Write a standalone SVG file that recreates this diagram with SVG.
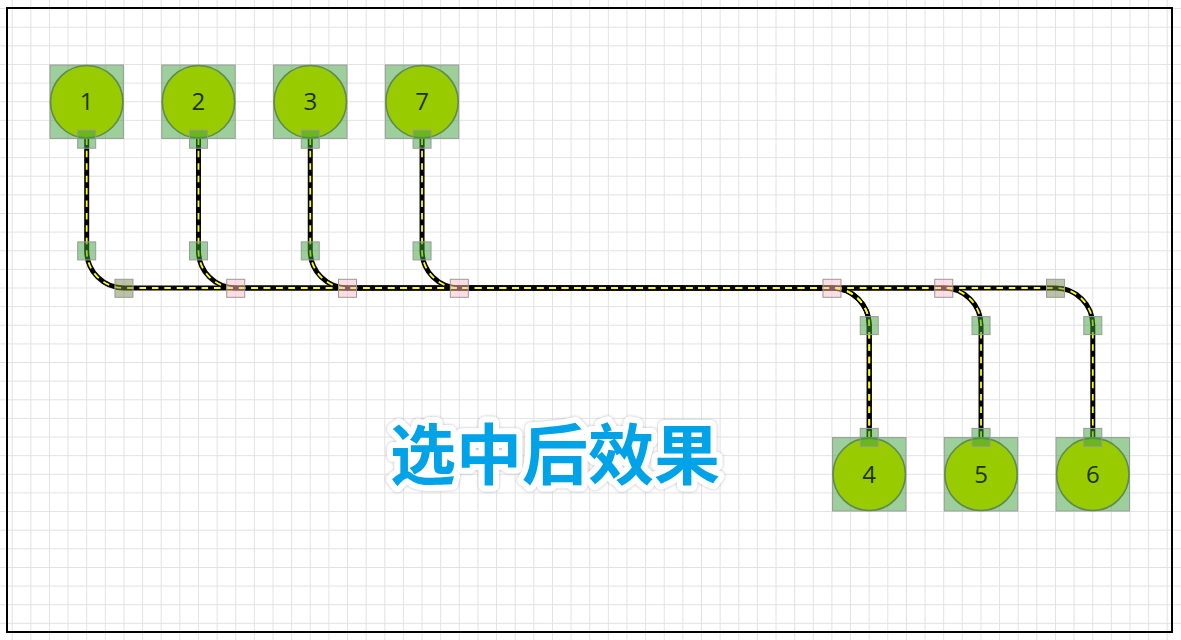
<svg xmlns="http://www.w3.org/2000/svg" xmlns:xlink="http://www.w3.org/1999/xlink" width="1181" height="640" viewBox="0 0 1181 640">
<style>
.box{fill:rgba(60,160,60,0.5);stroke:#9a9a9a;stroke-width:1}
.circ{fill:#99cc00;stroke:#5f8a50;stroke-width:1.6}
.lbl{font-family:"Open Sans","Liberation Sans",sans-serif;font-size:24px;fill:#1e3300;text-anchor:middle}
.port{fill:rgba(60,160,60,0.5);stroke:#9a9a9a;stroke-width:1}
.hg{fill:rgba(60,160,60,0.5);stroke:#9a9a9a;stroke-width:1}
.hp{fill:rgba(255,190,200,0.5);stroke:#9a9a9a;stroke-width:1}
.ho{fill:rgba(120,135,75,0.5);stroke:#9a9a9a;stroke-width:1}
.under{fill:none;stroke:#000;stroke-width:5}
.dash{fill:none;stroke:#ffff00;stroke-width:1.8;stroke-dasharray:6.5 5.92}
.title{font-family:"Noto Sans CJK SC",sans-serif;font-weight:bold;font-size:66px;text-anchor:middle}
</style>
<defs>
<pattern id="grid" patternUnits="userSpaceOnUse" x="77.385" y="92.385" width="18.63" height="18.63">
<path d="M9.315 0V18.63M0 9.315H18.63" stroke="#e2e2e2" stroke-width="1" fill="none"/>
</pattern>
<filter id="sh" x="-10%" y="-20%" width="120%" height="140%">
<feDropShadow dx="0" dy="0" stdDeviation="1.5" flood-color="#888" flood-opacity="0.6"/>
</filter>
<path id="e16" d="M86.7 138.4V250.74A37.26 37.26 0 0 0 123.96 288H1055.54A37.26 37.26 0 0 1 1092.8 325.26V437.6"/>
<path id="e25" d="M198.48 138.4V250.74A37.26 37.26 0 0 0 235.74 288H943.76A37.26 37.26 0 0 1 981.02 325.26V437.6"/>
<path id="e34" d="M310.26 138.4V250.74A37.26 37.26 0 0 0 347.52 288H831.98A37.26 37.26 0 0 1 869.24 325.26V437.6"/>
<path id="e74" d="M422.04 138.4V250.74A37.26 37.26 0 0 0 459.3 288H831.98A37.26 37.26 0 0 1 869.24 325.26V437.6"/>
</defs>
<rect width="1181" height="640" fill="#fff"/>
<rect width="1181" height="640" fill="url(#grid)"/>
<rect x="7" y="8" width="1165" height="624" fill="none" stroke="#000" stroke-width="2"/>

<g id="connectors">
<use xlink:href="#e16" class="under"/>
<use xlink:href="#e25" class="under"/>
<use xlink:href="#e34" class="under"/>
<use xlink:href="#e74" class="under"/>
<use xlink:href="#e16" class="dash"/>
<use xlink:href="#e25" class="dash"/>
<use xlink:href="#e34" class="dash"/>
<use xlink:href="#e74" class="dash"/>
</g>

<g id="node1"><rect class="box" x="50" y="65" width="73.4" height="73.4"/><circle class="circ" cx="86.7" cy="101.7" r="36.2"/><text class="lbl" x="86.7" y="110">1</text><rect class="port" x="77.7" y="130.2" width="18" height="18"/></g>
<g id="node2"><rect class="box" x="161.78" y="65" width="73.4" height="73.4"/><circle class="circ" cx="198.48" cy="101.7" r="36.2"/><text class="lbl" x="198.48" y="110">2</text><rect class="port" x="189.48" y="130.2" width="18" height="18"/></g>
<g id="node3"><rect class="box" x="273.56" y="65" width="73.4" height="73.4"/><circle class="circ" cx="310.26" cy="101.7" r="36.2"/><text class="lbl" x="310.26" y="110">3</text><rect class="port" x="301.26" y="130.2" width="18" height="18"/></g>
<g id="node7"><rect class="box" x="385.34" y="65" width="73.4" height="73.4"/><circle class="circ" cx="422.04" cy="101.7" r="36.2"/><text class="lbl" x="422.04" y="110">7</text><rect class="port" x="413.04" y="130.2" width="18" height="18"/></g>
<g id="node4"><rect class="box" x="832.54" y="437.6" width="73.4" height="73.4"/><circle class="circ" cx="869.24" cy="474.3" r="36.2"/><text class="lbl" x="869.24" y="482.6">4</text><rect class="port" x="860.24" y="428.4" width="18" height="18"/></g>
<g id="node5"><rect class="box" x="944.32" y="437.6" width="73.4" height="73.4"/><circle class="circ" cx="981.02" cy="474.3" r="36.2"/><text class="lbl" x="981.02" y="482.6">5</text><rect class="port" x="972.02" y="428.4" width="18" height="18"/></g>
<g id="node6"><rect class="box" x="1056.1" y="437.6" width="73.4" height="73.4"/><circle class="circ" cx="1092.8" cy="474.3" r="36.2"/><text class="lbl" x="1092.8" y="482.6">6</text><rect class="port" x="1083.8" y="428.4" width="18" height="18"/></g>

<g id="handles">
<rect class="hg" x="77.7" y="241.9" width="18" height="18"/>
<rect class="hg" x="189.48" y="241.9" width="18" height="18"/>
<rect class="hg" x="301.26" y="241.9" width="18" height="18"/>
<rect class="hg" x="413.04" y="241.9" width="18" height="18"/>
<rect class="ho" x="114.96" y="279.3" width="18" height="18"/>
<rect class="hp" x="226.74" y="279.3" width="18" height="18"/>
<rect class="hp" x="338.52" y="279.3" width="18" height="18"/>
<rect class="hp" x="450.3" y="279.3" width="18" height="18"/>
<rect class="hp" x="822.98" y="279.3" width="18" height="18"/>
<rect class="hp" x="934.76" y="279.3" width="18" height="18"/>
<rect class="ho" x="1046.54" y="279.3" width="18" height="18"/>
<rect class="hg" x="860.24" y="316.6" width="18" height="18"/>
<rect class="hg" x="972.02" y="316.6" width="18" height="18"/>
<rect class="hg" x="1083.8" y="316.6" width="18" height="18"/>
</g>

<g id="caption">
<text class="title" x="555" y="479" fill="#fff" stroke="#fff" stroke-width="12" stroke-linejoin="round" filter="url(#sh)">选中后效果</text>
<text class="title" x="555" y="479" fill="#00a3e8">选中后效果</text>
</g>
</svg>
